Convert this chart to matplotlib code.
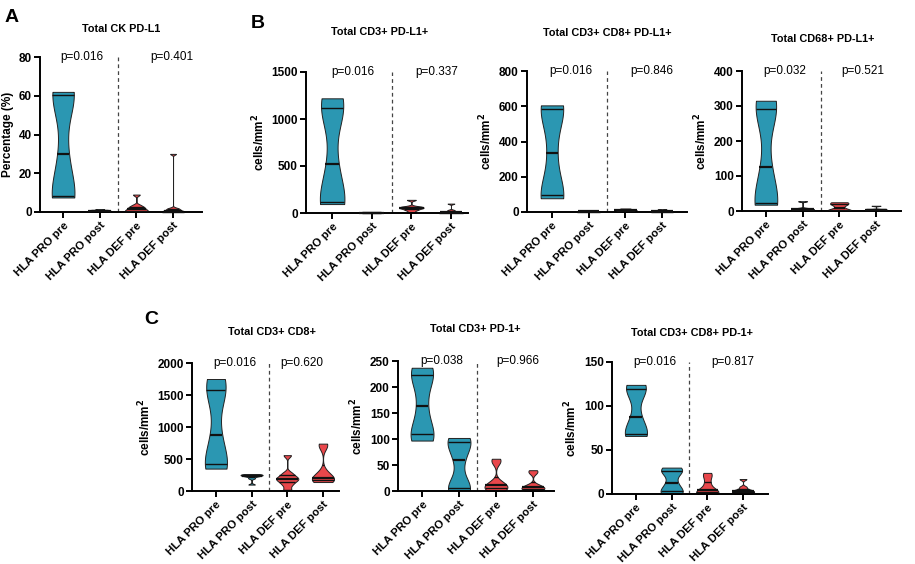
import numpy as np
import matplotlib
matplotlib.use('Agg')
import matplotlib.pyplot as plt
from matplotlib import cbook

groups = ['HLA PRO pre', 'HLA PRO post', 'HLA DEF pre', 'HLA DEF post']

# values per group: PRO pre, PRO post, DEF pre, DEF post
ck_pdl1 = [[7.5, 8, 9, 30, 60, 61, 62],
           [0.1, 0.3, 0.5, 0.6, 0.8, 1.0, 1.5],
           [0, 0.3, 0.8, 1.2, 2, 2.5, 3.5, 9],
           [0, 0, 0.2, 0.5, 1, 1.5, 2, 30]]
cd3_pdl1 = [[95, 110, 130, 520, 1080, 1150, 1220],
            [0, 2, 4, 5, 6, 8, 10],
            [5, 30, 45, 55, 60, 70, 140],
            [0, 2, 5, 10, 15, 30, 100]]
cd3cd8_pdl1 = [[78, 90, 100, 335, 570, 595, 605],
               [0, 1, 2, 3, 4, 6, 8],
               [0, 2, 5, 8, 10, 12, 15, 20],
               [0, 1, 2, 3, 4, 5, 15]]
cd68_pdl1 = [[18, 20, 24, 125, 285, 300, 315],
             [0, 2, 3, 5, 6, 8, 28],
             [0, 1, 2, 5, 15, 20, 24, 25],
             [0, 1, 2, 3, 4, 5, 15]]
cd3cd8 = [[350, 400, 450, 880, 1500, 1650, 1750],
          [100, 200, 230, 240, 250, 255, 265],
          [20, 100, 150, 180, 200, 230, 280, 560],
          [140, 160, 180, 200, 220, 300, 700, 740]]
cd3_pd1 = [[97, 105, 115, 163, 215, 230, 237],
           [2, 5, 8, 59, 90, 97, 102],
           [0, 3, 6, 10, 12, 18, 55, 62],
           [0, 2, 5, 7, 8, 12, 35, 40]]
cd3cd8_pd1 = [[66, 67, 70, 87, 117, 121, 124],
              [0, 2, 5, 13, 25, 27, 30],
              [0, 1, 2, 3, 5, 12, 20, 24],
              [0, 1, 2, 3, 4, 5, 8, 17]]

titles = ['Total CK PD-L1', 'Total CD3+ PD-L1+', 'Total CD3+ CD8+ PD-L1+',
          'Total CD68+ PD-L1+', 'Total CD3+ CD8+', 'Total CD3+ PD-1+',
          'Total CD3+ CD8+ PD-1+']
datasets = [ck_pdl1, cd3_pdl1, cd3cd8_pdl1, cd68_pdl1, cd3cd8, cd3_pd1, cd3cd8_pd1]
ylabels = ['Percentage (%)'] + ['cells/mm$^\\mathbf{2}$'] * 6
yticks = [[0, 20, 40, 60, 80], [0, 500, 1000, 1500], [0, 200, 400, 600, 800],
          [0, 100, 200, 300, 400], [0, 500, 1000, 1500, 2000],
          [0, 50, 100, 150, 200, 250], [0, 50, 100, 150]]
pvals = [('p=0.016', 'p=0.401'), ('p=0.016', 'p=0.337'), ('p=0.016', 'p=0.846'),
         ('p=0.032', 'p=0.521'), ('p=0.016', 'p=0.620'), ('p=0.038', 'p=0.966'),
         ('p=0.016', 'p=0.817')]

# layout in pixels: left, right, top, bottom
W, H = 915, 564
rects_px = [(40, 202, 57, 212), (306, 468, 72, 213), (527, 687, 71, 212),
            (742, 901, 71, 211), (192, 339, 363, 491), (398, 554, 361, 491),
            (612, 768, 362, 494)]
xlims = [(-0.63, 3.79), (-0.66, 3.43), (-0.68, 3.68), (-0.65, 3.68),
         (-0.67, 3.45), (-0.65, 3.57), (-0.67, 3.7)]
title_px = [(121, 29), (380, 32), (607, 33), (823, 39), (272, 332), (475, 329), (692, 333)]
p2x = [2.97, 2.65, 2.73, 2.64, 2.4, 2.6, 2.7]

teal = '#2B97B2'
red = '#E9474B'
colors = [teal, teal, red, red]

FONT = 'Liberation Sans'
plt.rcParams['font.family'] = [FONT, 'DejaVu Sans']

fig = plt.figure(figsize=(W / 100, H / 100), dpi=100)

VW = 0.62
BWF = 0.75


def kde(X, coords):
    X = np.asarray(X, float)
    n = len(X)
    sd = X.std(ddof=1)
    iqr = np.subtract(*np.percentile(X, [75, 25])) / 1.34
    spread = min(sd, iqr) if iqr > 0 else sd
    if spread <= 0:
        return np.ones_like(coords)
    h = BWF * 0.9 * spread * n ** (-0.2)
    z = (np.asarray(coords)[:, None] - X[None, :]) / h
    return np.exp(-0.5 * z ** 2).sum(axis=1) / (n * h * np.sqrt(2 * np.pi))


for i, data in enumerate(datasets):
    l, r, t, b = rects_px[i]
    ax = fig.add_axes([l / W, 1 - b / H, (r - l) / W, (b - t) / H])
    positions = np.arange(4)
    stats = cbook.violin_stats([np.asarray(d, float) for d in data], kde, points=300)
    parts = ax.violin(stats, positions=positions, widths=VW, showmeans=False,
                      showextrema=False, showmedians=False)
    for body, c in zip(parts['bodies'], colors):
        body.set_facecolor(c)
        body.set_edgecolor('#222222')
        body.set_linewidth(0.7)
        body.set_alpha(1)
        body.set_clip_on(False)
    for pos, d, st in zip(positions, data, stats):
        vals = np.asarray(st['vals'])
        coords = np.asarray(st['coords'])
        q1, med, q3 = np.percentile(d, [25, 50, 75])
        for q, lw in ((q1, 1.0), (med, 1.6), (q3, 1.0)):
            hw = 0.5 * VW * np.interp(q, coords, vals) / vals.max()
            ax.plot([pos - hw, pos + hw], [q, q], color='#111111', lw=lw,
                    solid_capstyle='butt', clip_on=False, zorder=3)
    ymax = yticks[i][-1]
    ax.set_ylim(0, ymax)
    ax.set_xlim(*xlims[i])
    ax.set_yticks(yticks[i])
    ax.set_xticks(positions)
    ax.set_xticklabels(groups, rotation=45, ha='right', rotation_mode='anchor',
                       fontweight='bold', fontsize=8.2)
    for lab in ax.get_yticklabels():
        lab.set_fontweight('bold')
        lab.set_fontsize(8.5)
    for s in ('top', 'right'):
        ax.spines[s].set_visible(False)
    for s in ('left', 'bottom'):
        ax.spines[s].set_linewidth(1.4)
    ax.tick_params(axis='both', width=1.4, length=4, pad=2)
    ax.set_ylabel(ylabels[i], fontweight='bold', fontsize=8.5, labelpad=3)
    ax.axvline(1.5, color='#444444', lw=0.9, ls=(0, (3, 2.5)))
    ax.text(0.52, ymax, pvals[i][0], ha='center', va='center', fontsize=8.5)
    ax.text(p2x[i], ymax, pvals[i][1], ha='center', va='center', fontsize=8.5)
    tx, ty = title_px[i]
    fig.text(tx / W, 1 - ty / H, titles[i], ha='center', va='center',
             fontweight='bold', fontsize=7.8)

fig.text(12 / W, 1 - 18 / H, 'A', ha='center', va='center', fontweight='bold', fontsize=14)
fig.text(258 / W, 1 - 24 / H, 'B', ha='center', va='center', fontweight='bold', fontsize=14)
fig.text(151 / W, 1 - 320 / H, 'C', ha='center', va='center', fontweight='bold', fontsize=14)

fig.savefig('out.png', dpi=100)
